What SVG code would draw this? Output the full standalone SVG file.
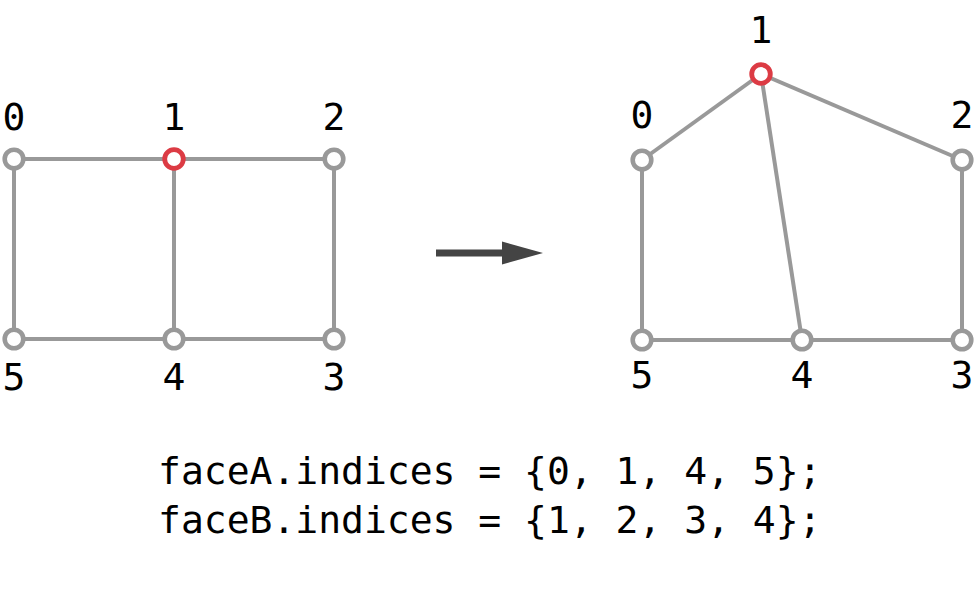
<svg xmlns="http://www.w3.org/2000/svg" width="976" height="592" viewBox="0 0 976 592">
<style>
.edge{stroke:#999999;stroke-width:4;fill:none}
.node{fill:#ffffff;stroke:#999999;stroke-width:4.6}
.sel{fill:#ffffff;stroke:#dc3b44;stroke-width:4.8}
.lbl{font-family:"DejaVu Sans Mono",monospace;font-size:38px;fill:#000;text-anchor:middle}
.code{font-family:"DejaVu Sans Mono",monospace;font-size:38px;fill:#000}
</style>
<rect width="976" height="592" fill="#ffffff"/>
<g id="connectors">
<g id="left-edges">
<line class="edge" x1="14" y1="159" x2="174" y2="159"/>
<line class="edge" x1="174" y1="159" x2="334" y2="159"/>
<line class="edge" x1="14" y1="159" x2="14" y2="339"/>
<line class="edge" x1="174" y1="159" x2="174" y2="339"/>
<line class="edge" x1="334" y1="159" x2="334" y2="339"/>
<line class="edge" x1="14" y1="339" x2="174" y2="339"/>
<line class="edge" x1="174" y1="339" x2="334" y2="339"/>
</g>
<g id="right-edges">
<line class="edge" x1="642" y1="160" x2="761" y2="74"/>
<line class="edge" x1="761" y1="74" x2="962" y2="160"/>
<line class="edge" x1="761" y1="74" x2="802" y2="340"/>
<line class="edge" x1="642" y1="160" x2="642" y2="340"/>
<line class="edge" x1="962" y1="160" x2="962" y2="340"/>
<line class="edge" x1="642" y1="340" x2="802" y2="340"/>
<line class="edge" x1="802" y1="340" x2="962" y2="340"/>
</g>
<g id="arrow">
<rect x="436" y="249.5" width="68" height="7" fill="#444444"/>
<polygon points="502,241.5 543,253 502,264.5" fill="#444444"/>
</g>
</g>
<g id="left-graph">
<g id="L0"><circle class="node" cx="14" cy="159" r="9.3"/><text class="lbl" x="14" y="130">0</text></g>
<g id="L1"><circle class="sel" cx="174" cy="159" r="9.3"/><text class="lbl" x="174" y="130">1</text></g>
<g id="L2"><circle class="node" cx="334" cy="159" r="9.3"/><text class="lbl" x="334" y="130">2</text></g>
<g id="L3"><circle class="node" cx="334" cy="339" r="9.3"/><text class="lbl" x="334" y="390">3</text></g>
<g id="L4"><circle class="node" cx="174" cy="339" r="9.3"/><text class="lbl" x="174" y="390">4</text></g>
<g id="L5"><circle class="node" cx="14" cy="339" r="9.3"/><text class="lbl" x="14" y="390">5</text></g>
</g>
<g id="right-graph">
<g id="R0"><circle class="node" cx="642" cy="160" r="9.3"/><text class="lbl" x="642" y="128">0</text></g>
<g id="R1"><circle class="sel" cx="761" cy="74" r="9.3"/><text class="lbl" x="761" y="43">1</text></g>
<g id="R2"><circle class="node" cx="962" cy="160" r="9.3"/><text class="lbl" x="962" y="128">2</text></g>
<g id="R3"><circle class="node" cx="962" cy="340" r="9.3"/><text class="lbl" x="962" y="388">3</text></g>
<g id="R4"><circle class="node" cx="802" cy="340" r="9.3"/><text class="lbl" x="802" y="388">4</text></g>
<g id="R5"><circle class="node" cx="642" cy="340" r="9.3"/><text class="lbl" x="642" y="388">5</text></g>
</g>
<g id="code">
<text class="code" x="158" y="484" xml:space="preserve">faceA.indices = {0, 1, 4, 5};</text>
<text class="code" x="158" y="533" xml:space="preserve">faceB.indices = {1, 2, 3, 4};</text>
</g>
</svg>
